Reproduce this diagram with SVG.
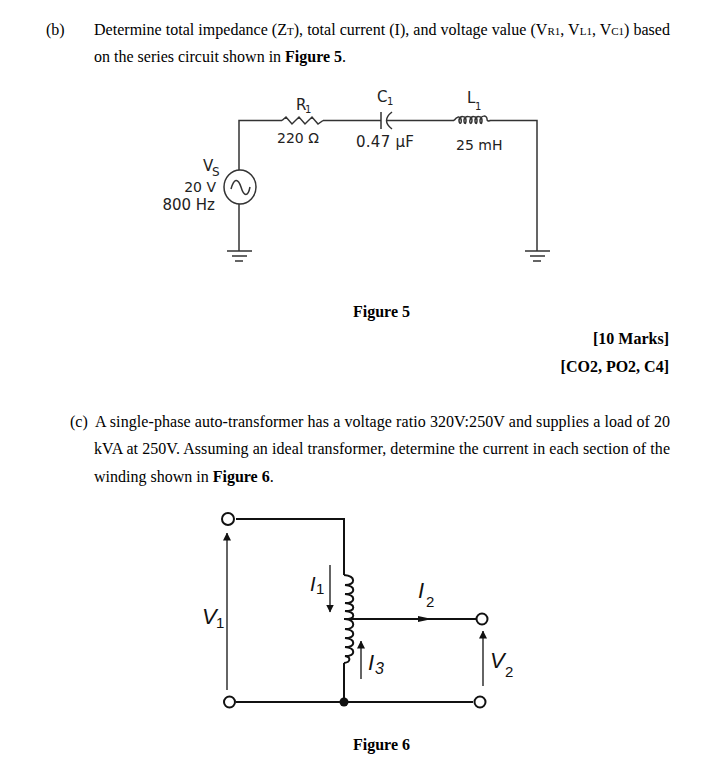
<svg xmlns="http://www.w3.org/2000/svg" width="727" height="761" viewBox="0 0 727 761">
<defs>
<style>
.t{font-family:"Liberation Serif",serif;font-size:16px;fill:#000}
.b{font-weight:bold}
.s{font-family:"DejaVu Sans",sans-serif;font-size:14px;fill:#222}
.m{font-family:"DejaVu Sans",sans-serif;font-size:15px;fill:#222}
.sub{font-family:"DejaVu Sans",sans-serif;font-size:10px;fill:#222}
.sub2{font-family:"DejaVu Sans",sans-serif;font-size:12px;fill:#222}
.i{font-family:"Liberation Sans",sans-serif;font-style:italic;font-size:22px;fill:#111}
.i1{font-family:"Liberation Sans",sans-serif;font-style:italic;font-size:20px;fill:#111}
.i2{font-family:"Liberation Sans",sans-serif;font-style:italic;font-size:16px;fill:#111}
.is{font-family:"Liberation Sans",sans-serif;font-size:15px;fill:#111}
.w{fill:none;stroke:#333;stroke-width:1.5}
.k{fill:none;stroke:#111;stroke-width:2}
.a{fill:none;stroke:#111;stroke-width:1.3}
.h{fill:#111}
.o{fill:#fff;stroke:#111;stroke-width:2}
</style>
<marker id="ah" viewBox="0 0 8 14" refX="7.5" refY="4" markerWidth="8" markerHeight="14" markerUnits="userSpaceOnUse" orient="auto"><path d="M0 0L8 4L0 8Z" fill="#111"/></marker>
</defs>
<rect width="727" height="761" fill="#fff"/>
<g id="text-b">
<text class="t" x="46" y="35">(b)</text>
<text class="t" x="94" y="35" textLength="576" lengthAdjust="spacing">Determine total impedance (Z<tspan font-size="11">T</tspan>), total current (I), and voltage value (V<tspan font-size="11">R1</tspan>, V<tspan font-size="11">L1</tspan>, V<tspan font-size="11">C1</tspan>) based</text>
<text class="t" x="94" y="62">on the series circuit shown in <tspan class="b">Figure 5</tspan>.</text>
<text class="t b" x="353" y="317">Figure 5</text>
<text class="t b" x="669" y="344" text-anchor="end">[10 Marks]</text>
<text class="t b" x="669" y="372" text-anchor="end">[CO2, PO2, C4]</text>
</g>
<g id="text-c">
<text class="t" x="70" y="427">(c)</text>
<text class="t" x="95" y="427" textLength="575" lengthAdjust="spacing">A single-phase auto-transformer has a voltage ratio 320V:250V and supplies a load of 20</text>
<text class="t" x="94" y="454" textLength="576" lengthAdjust="spacing">kVA at 250V. Assuming an ideal transformer, determine the current in each section of the</text>
<text class="t" x="94" y="482">winding shown in <tspan class="b">Figure 6</tspan>.</text>
<text class="t b" x="353" y="750">Figure 6</text>
</g>
<g id="connectors">
<path class="w" d="M239 170V120.5H282M323 120.5H381M386 120.5H454M490 120.5H537V251M239 204V251"/>
<path class="k" d="M236 519H344V575M344 663V702M236 702H473M344 619H476"/>
<path class="a" marker-end="url(#ah)" d="M227 690V533"/>
<path class="a" marker-end="url(#ah)" d="M483 686V631"/>
<path class="a" marker-end="url(#ah)" d="M330 565V612"/>
<path class="a" marker-end="url(#ah)" d="M361 679V641"/>
</g>
<g id="R1">
<path class="w" d="M282 120.5L286 117L292 124L299 117L305 124L312 117L318 124L323 120.5"/>
<text class="m" x="296" y="110">R</text><text class="sub" x="305" y="113">1</text>
<text class="s" x="277" y="143">220 Ω</text>
</g>
<g id="C1">
<path class="w" d="M381 112V129M392 112Q381 120.5 392 129"/>
<text class="m" x="377" y="102">C</text><text class="sub" x="387" y="105">1</text>
<text class="m" x="356" y="147" textLength="58">0.47 µF</text>
</g>
<g id="L1">
<path class="w" d="M454 120.5C457 116 460 116 461 119C462 124 459 125 459 120C460 115 466 116 466 120C466 125 464 124 464 120C465 115 472 116 472 120C472 125 469 124 470 120C471 115 477 116 477 120C477 125 475 124 475 120C476 115 482 116 482 120C482 125 480 124 480 120C481 115 487 115 487 119C487 122 489 121 490 120.5"/>
<text class="m" x="467" y="103">L</text><text class="sub" x="475" y="110">1</text>
<text class="s" x="456" y="150">25 mH</text>
</g>
<g id="Vs">
<ellipse class="w" cx="240" cy="187" rx="16" ry="17" fill="#fff"/>
<path class="w" d="M231 189C234 178 238 178 241 187C244 197 248 197 250 187"/>
<text class="m" x="203" y="171">V</text><text class="sub2" x="212" y="176">S</text>
<text class="s" x="216" y="192" text-anchor="end">20 V</text>
<text class="m" x="215" y="210" text-anchor="end">800 Hz</text>
</g>
<g id="ground-left"><path class="w" d="M227 251H252M232 256H247M235 261H243"/></g>
<g id="ground-right"><path class="w" d="M525 251H550M530 256H545M533 261H541"/></g>
<g id="winding">
<path class="k" d="M344 575C356 576 356 585 345 585C356 586 356 594 345 594C356 595 356 603 345 603C356 604 356 611 345 611C356 612 356 619 345 619C356 620 356 629 345 629C356 630 356 638 345 638C356 639 356 647 345 647C356 648 356 656 345 656C351 657 351 662 344 663"/>
</g>
<g id="terminals">
<circle class="o" cx="228" cy="519" r="6"/>
<circle class="o" cx="229.5" cy="702" r="5.5"/>
<circle class="o" cx="482" cy="619" r="5.5"/>
<circle class="o" cx="480" cy="702" r="5.5"/>
<circle class="h" cx="344" cy="702" r="4.5"/>
<path class="h" d="M418 616L432 619L418 622Z"/>
</g>
<g id="labels-6">
<text class="i" x="202" y="624">V</text><text class="is" x="216" y="628">1</text>
<text class="i1" x="310" y="591">I</text><text class="is" x="316" y="594">1</text>
<text class="i" x="418" y="598">I</text><text class="is" x="426" y="607">2</text>
<text class="i" x="368" y="670">I</text><text class="i2" x="375" y="674">3</text>
<text class="i" x="490" y="668">V</text><text class="is" x="505" y="677">2</text>
</g>
</svg>
